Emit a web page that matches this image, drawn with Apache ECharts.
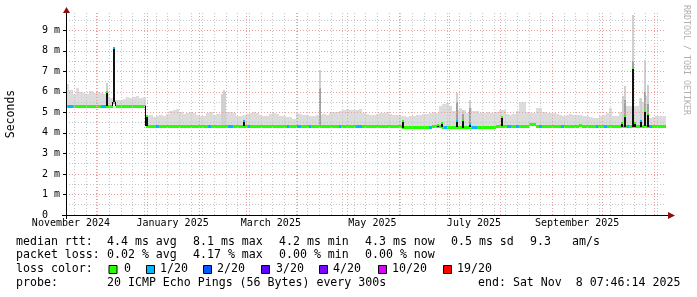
<!DOCTYPE html>
<html><head><meta charset="utf-8">
<style>html,body{margin:0;padding:0;background:#fff}#c{width:697px;height:297px}</style>
<script src="https://cdn.jsdelivr.net/npm/echarts@6/dist/echarts.min.js"></script>
</head><body><div id="c"></div>
<script>
// ---------------- data ----------------
const START_DATE = '2024-11-13T00:00:00Z';
const END_DATE = '2025-11-08T07:46:14Z';
const BIN_DAYS = 2;   // each entry below covers two days

// median rtt per 2-day bin (ms)
const medianMs = [
  5.3,5.3,5.3,5.3,5.3,5.3,5.3,5.3,5.3,5.3,5.3,5.3,5.3,5.3,5.5,5.3,5.3,5.3,5.3,5.3,5.3,5.3,5.3,5.3,
  4.32,4.32,4.32,4.32,4.32,4.32,4.32,4.32,4.32,4.32,4.32,4.32,4.32,4.32,4.32,4.32,4.32,4.32,4.32,4.32,4.32,4.32,4.32,4.32,4.32,4.32,4.32,4.32,4.32,4.32,
  4.3,4.3,4.3,4.3,4.3,4.3,4.3,4.3,4.3,4.3,4.3,4.3,4.3,4.3,4.3,4.3,4.3,4.3,4.3,4.3,4.3,4.3,4.3,4.3,4.3,4.3,4.3,4.3,4.3,4.3,4.3,4.3,4.3,4.3,4.3,4.3,4.3,4.3,4.3,4.3,4.3,
  4.3,4.3,4.3,4.3,4.3,4.3,4.27,4.27,4.27,4.27,4.27,4.27,4.27,4.27,4.27,4.3,4.3,4.3,4.26,4.26,4.26,4.26,4.26,4.26,4.26,4.26,4.26,4.26,4.26,4.26,4.26,4.26,4.26,4.26,4.3,4.3,4.3,4.3,4.3,4.3,4.3,4.3,4.3,4.3,4.42,4.42,4.3,4.3,4.3,4.3,4.3,
  4.3,4.3,4.3,4.3,4.3,4.3,4.3,4.3,4.38,4.3,4.3,4.3,4.3,4.3,4.3,4.3,4.3,4.3,4.3,4.3,4.3,4.3,4.3,4.3,4.3,4.3,4.3,4.3,4.3,4.3,4.3,4.3,4.3,4.3,4.3
];

// upper edge of the smoke (ms) per 2-day bin
const smokeTopMs = [
  6.4,6.1,5.9,6.2,6.0,5.95,5.9,6.05,5.95,6.0,5.95,5.9,5.9,5.7,5.6,5.6,5.6,5.65,5.75,5.7,5.75,5.8,5.7,5.75,
  4.8,4.85,4.75,4.8,4.85,4.8,4.9,5.05,5.1,5.15,5.0,4.9,4.95,5.0,4.95,4.85,4.8,4.8,4.95,5.0,4.85,4.9,4.9,5.0,5.0,5.0,4.95,4.8,4.8,4.85,
  4.9,4.95,5.0,4.95,4.85,4.8,4.8,4.9,4.95,4.9,4.8,4.8,4.75,4.75,4.7,4.95,4.9,4.85,4.85,4.8,4.8,4.85,4.85,4.9,4.85,4.95,5.0,5.0,5.05,5.1,5.15,5.1,5.1,5.1,5.15,4.95,4.9,4.85,4.85,4.9,4.95,
  4.95,5.0,4.9,4.85,4.85,4.8,4.8,4.75,4.8,4.8,4.85,4.85,4.9,4.9,4.95,5.0,4.95,5.3,5.4,5.45,5.3,5.05,5.1,5.2,5.1,4.97,5.2,5.05,5.05,4.97,4.97,5.0,4.95,4.97,5.0,5.13,5.1,4.9,4.85,4.9,5.05,5.5,5.5,5.0,4.95,4.97,5.2,5.2,5.0,4.97,4.97,
  4.95,4.9,4.85,4.8,4.85,4.9,4.88,4.85,4.85,4.8,4.8,4.75,4.73,4.73,4.8,4.85,4.95,5.2,4.8,4.8,5.0,5.3,5.3,5.29,5.29,5.29,5.7,5.5,5.78,4.73,4.75,4.8,4.8,4.8,4.8
];

// single-day smoke spikes: [date, top ms, top of darker part ms or null]
const smokeSpikes = [
  ['2024-12-07', 6.45, null], ['2025-02-14', 5.9, null], ['2025-02-15', 6.07, null], ['2025-02-16', 6.0, null],
  ['2025-04-14', 7.07, 6.2], ['2025-07-05', 5.94, 5.5], ['2025-07-09', 5.13, 4.9], ['2025-07-13', 5.62, 5.2],
  ['2025-10-13', 5.78, null], ['2025-10-14', 6.27, 5.6], ['2025-10-19', 9.76, 7.5], ['2025-10-24', 5.7, null],
  ['2025-10-26', 7.57, 6.0], ['2025-10-28', 6.35, 5.4]
];

// single-day median spikes: [date, ms, loss class index]
const medianSpikes = [
  ['2024-12-07', 5.98, 0], ['2024-12-11', 8.15, 1], ['2024-12-31', 4.8, 0], ['2025-02-27', 4.56, 1],
  ['2025-06-03', 4.6, 0], ['2025-06-24', 4.4, 0], ['2025-06-26', 4.5, 0], ['2025-07-05', 4.56, 1],
  ['2025-07-09', 4.64, 0], ['2025-07-13', 4.43, 1], ['2025-08-01', 4.75, 0], ['2025-10-12', 4.48, 0],
  ['2025-10-14', 4.84, 0], ['2025-10-19', 7.15, 0], ['2025-10-20', 4.48, 0], ['2025-10-24', 4.6, 1],
  ['2025-10-26', 5.05, 0], ['2025-10-28', 4.92, 0]
];

// periods with packet loss: [from, to, loss class index]
const lossSpans = [
  ['2024-11-14','2024-11-17',1], ['2024-12-04','2024-12-07',1], ['2025-01-06','2025-01-08',1],
  ['2025-02-06','2025-02-08',1], ['2025-02-18','2025-02-21',1], ['2025-03-02','2025-03-03',1],
  ['2025-03-26','2025-03-27',1], ['2025-04-01','2025-04-03',1], ['2025-04-08','2025-04-09',1],
  ['2025-04-26','2025-04-27',1], ['2025-05-06','2025-05-10',1], ['2025-06-19','2025-06-21',1],
  ['2025-06-28','2025-06-30',1], ['2025-07-15','2025-07-18',1], ['2025-08-05','2025-08-07',1],
  ['2025-08-10','2025-08-12',1], ['2025-08-24','2025-08-26',1], ['2025-09-06','2025-09-08',1],
  ['2025-09-27','2025-09-28',1], ['2025-10-02','2025-10-04',1], ['2025-10-16','2025-10-17',1],
  ['2025-10-29','2025-10-31',1]
];

const lossLabels = ['0', '1/20', '2/20', '3/20', '4/20', '10/20', '19/20'];
const lossColors = ['#26ff00', '#00b8ff', '#0059ff', '#5e00ff', '#7e00ff', '#dd00ff', '#ff0000'];
const yTickValues = [0, 1, 2, 3, 4, 5, 6, 7, 8, 9];
const xLabelDates = ['2024-11-16', '2025-01-16', '2025-03-16', '2025-05-16', '2025-07-16', '2025-09-16'];
const monthNames = ['January','February','March','April','May','June','July','August','September','October','November','December'];

const statRtt = ['median rtt:', '4.4 ms avg', '8.1 ms max', '4.2 ms min', '4.3 ms now', '0.5 ms sd', '9.3', 'am/s'];
const statLoss = ['packet loss:', '0.02 % avg', '4.17 % max', '0.00 % min', '0.00 % now'];
const probeText = ['probe:', '20 ICMP Echo Pings (56 Bytes) every 300s', 'end: Sat Nov  8 07:46:14 2025'];

// ---------------- build ----------------
const DAY = 86400000;
const T0 = Date.parse(START_DATE);
const TEND = Date.parse(END_DATE);
const ts = s => Date.parse(s + 'T00:00:00Z');
const binOf = t => Math.max(0, Math.min(medianMs.length - 1, Math.floor((t - T0) / (BIN_DAYS * DAY))));

const binData = medianMs.map((m, i) => [T0 + i * BIN_DAYS * DAY, T0 + (i + 1) * BIN_DAYS * DAY, m, smokeTopMs[i], i > 0 ? medianMs[i - 1] : m]);

const MONO = "'DejaVu Sans Mono', monospace";
const MAJOR = '#eaa0a0', MINOR = '#c4c4c4';

// grid lines (calendar ticks)
const gridMarks = [];
for (let d = new Date(Date.UTC(2024, 10, 18)); d.getTime() < TEND; d = new Date(d.getTime() + 7 * DAY)) {
  gridMarks.push({ xAxis: d.getTime(), lineStyle: { color: MINOR, type: [1, 2], width: 1 } });
}
for (let m = 11; ; m++) {
  const t = Date.UTC(2024, m, 1);
  if (t >= TEND) break;
  gridMarks.push({ xAxis: t, lineStyle: { color: MAJOR, type: [1, 2], width: 1 } });
}
for (let v = 0.5; v < 9.84; v += 0.5) {
  const major = Math.abs(v - Math.round(v)) < 1e-6;
  gridMarks.push({ yAxis: v, lineStyle: { color: major ? MAJOR : MINOR, type: [1, 2], width: 1 } });
}

const R = Math.round;
function xPx(api, t) { return R(api.coord([Math.min(t, TEND), 0])[0]); }
function yPx(api, v) { return api.coord([T0, v])[1]; }

const series = [
  { type: 'line', data: [[T0, 0]], showSymbol: false, lineStyle: { opacity: 0 }, z: 1, silent: true,
    markLine: { silent: true, symbol: 'none', label: { show: false }, animation: false, data: gridMarks } },
  { type: 'custom', z: 2, data: binData, encode: { x: [0, 1], y: [2, 3] }, silent: true,
    renderItem: (p, api) => {
      const x0 = xPx(api, api.value(0)), x1 = xPx(api, api.value(1));
      const yt = R(yPx(api, api.value(3))), yb = R(yPx(api, api.value(2)));
      return { type: 'rect', shape: { x: x0, y: yt, width: x1 - x0, height: yb - yt }, style: { fill: '#dcdcdc' } };
    } },
  { type: 'custom', z: 3, data: smokeSpikes.map(s => [ts(s[0]), s[1], s[2] == null ? NaN : s[2]]), silent: true,
    renderItem: (p, api) => {
      const t = api.value(0);
      const x0 = xPx(api, t), x1 = Math.max(x0 + 2, xPx(api, t + DAY));
      const yb = R(yPx(api, medianMs[binOf(t)]));
      const yt = R(yPx(api, api.value(1)));
      const kids = [{ type: 'rect', shape: { x: x0, y: yt, width: x1 - x0, height: yb - yt }, style: { fill: '#d0d0d0' } }];
      const dk = api.value(2);
      if (!isNaN(dk)) {
        const yd = R(yPx(api, dk));
        kids.push({ type: 'rect', shape: { x: x0, y: yd, width: x1 - x0, height: yb - yd }, style: { fill: '#a0a0a0' } });
      }
      return { type: 'group', children: kids };
    } },
  { type: 'custom', z: 4, data: binData, silent: true,
    renderItem: (p, api) => {
      const x0 = xPx(api, api.value(0)), x1 = xPx(api, api.value(1));
      const y = yPx(api, api.value(2)), yPrev = yPx(api, api.value(4));
      const kids = [{ type: 'rect', shape: { x: x0, y: R(y - 1.5), width: x1 - x0, height: 3 }, style: { fill: lossColors[0] } }];
      if (Math.abs(y - yPrev) > 3) {
        kids.push({ type: 'rect', shape: { x: x0 - 1, y: R(Math.min(y, yPrev)), width: 1, height: R(Math.abs(y - yPrev)) }, style: { fill: '#000' } });
      }
      return { type: 'group', children: kids };
    } },
  { type: 'custom', z: 5, data: lossSpans.map(s => [ts(s[0]), ts(s[1]), s[2]]), silent: true,
    renderItem: (p, api) => {
      const a = api.value(0), b = api.value(1);
      const x0 = xPx(api, a), x1 = Math.max(x0 + 2, xPx(api, b));
      const y = yPx(api, medianMs[binOf(a)]);
      return { type: 'rect', shape: { x: x0, y: R(y - 1.5), width: x1 - x0, height: 3 }, style: { fill: lossColors[api.value(2)] } };
    } },
  { type: 'custom', z: 6, data: medianSpikes.map(s => [ts(s[0]), s[1], s[2]]), silent: true,
    renderItem: (p, api) => {
      const t = api.value(0);
      const x0 = xPx(api, t), x1 = Math.max(x0 + 2, xPx(api, t + DAY));
      const yb = yPx(api, medianMs[binOf(t)]);
      const yv = yPx(api, api.value(1));
      return { type: 'group', children: [
        { type: 'rect', shape: { x: x0, y: R(yv), width: x1 - x0, height: R(yb - yv) }, style: { fill: '#111' } },
        { type: 'rect', shape: { x: x0, y: R(yv - 1), width: x1 - x0, height: 2 }, style: { fill: lossColors[api.value(2)] } }
      ] };
    } }
];

// text & decorations
const graphics = [];
function txt(x, y, s, size) {
  graphics.push({ type: 'text', x: x, y: y, z: 100, silent: true,
    style: { text: s, fontSize: size, fontFamily: MONO, fill: '#000', textAlign: 'left', align: 'left', textVerticalAlign: 'middle', verticalAlign: 'middle' } });
}
graphics.push({ type: 'line', z: 90, silent: true, shape: { x1: 62, y1: 215.5, x2: 669, y2: 215.5 }, style: { stroke: '#000', lineWidth: 1 } });
graphics.push({ type: 'line', z: 90, silent: true, shape: { x1: 66.5, y1: 219, x2: 66.5, y2: 11 }, style: { stroke: '#000', lineWidth: 1 } });
graphics.push({ type: 'polygon', z: 91, silent: true, shape: { points: [[668, 212], [675, 215.5], [668, 219]] }, style: { fill: '#8b1010' } });
graphics.push({ type: 'polygon', z: 91, silent: true, shape: { points: [[63, 13], [66.5, 7], [70, 13]] }, style: { fill: '#8b1010' } });
graphics.push({ type: 'text', x: 11, y: 114, rotation: Math.PI / 2, z: 100, silent: true,
  style: { text: 'Seconds', fontSize: 11.5, fontFamily: MONO, fill: '#000', textAlign: 'center', align: 'center', textVerticalAlign: 'middle', verticalAlign: 'middle' } });
graphics.push({ type: 'text', x: 686, y: 5, rotation: -Math.PI / 2, z: 100, silent: true,
  style: { text: 'RRDTOOL / TOBI OETIKER', fontSize: 8.3, fontFamily: MONO, fill: '#b0b0b0', textAlign: 'left', align: 'left', textVerticalAlign: 'middle', verticalAlign: 'middle' } });
const FS = 11.6;
const rowY = [241.5, 255.2, 268.9, 282.6];
const rttX = [16, 107, 193, 279, 365, 451, 530, 572];
statRtt.forEach((s, i) => txt(rttX[i], rowY[0], s, FS));
statLoss.forEach((s, i) => txt(rttX[i], rowY[1], s, FS));
txt(16, rowY[2], 'loss color:', FS);
const boxX = [108.5, 146, 203, 261, 319, 378, 443];
const labX = [124, 160, 217, 276, 333, 392, 457];
lossLabels.forEach((l, i) => {
  graphics.push({ type: 'rect', z: 100, silent: true, shape: { x: boxX[i] + 0.5, y: 265.5, width: 8, height: 8 }, style: { fill: lossColors[i], stroke: '#000', lineWidth: 1 } });
  txt(labX[i], rowY[2], l, FS);
});
txt(16, rowY[3], probeText[0], FS);
txt(107, rowY[3], probeText[1], FS);
txt(478, rowY[3], probeText[2], FS);

const chart = echarts.init(document.getElementById('c'), null, { renderer: 'canvas' });
chart.setOption({
  animation: false,
  backgroundColor: '#ffffff',
  grid: { left: 66, right: 31, top: 13, bottom: 82, containLabel: false },
  xAxis: {
    type: 'value', min: T0, max: TEND, scale: true,
    axisLine: { show: false }, axisTick: { show: false }, splitLine: { show: false },
    axisLabel: {
      customValues: xLabelDates.map(ts), margin: 3, fontSize: 10, fontFamily: MONO, color: '#000',
      hideOverlap: false, showMinLabel: true, showMaxLabel: true,
      formatter: v => { const d = new Date(v); return monthNames[d.getUTCMonth()] + ' ' + d.getUTCFullYear(); }
    }
  },
  yAxis: {
    type: 'value', min: 0, max: 9.84,
    axisLine: { show: false }, splitLine: { show: false },
    axisTick: { show: true, customValues: yTickValues, length: 3, lineStyle: { color: '#000' } },
    axisLabel: {
      customValues: yTickValues, margin: 6, fontSize: 10, fontFamily: MONO, color: '#000',
      formatter: v => v === 0 ? '0  ' : v + ' m'
    }
  },
  series: series,
  graphic: graphics
});
</script></body></html>
